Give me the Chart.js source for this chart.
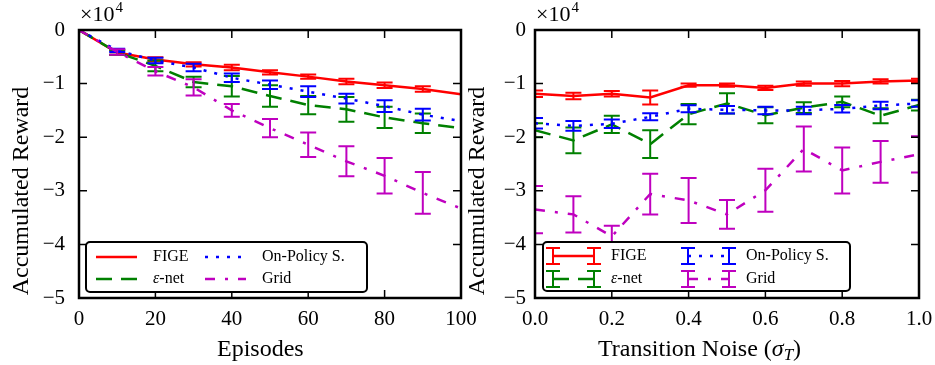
<!DOCTYPE html>
<html>
<head>
<meta charset="utf-8">
<script src="https://cdn.jsdelivr.net/npm/chart.js@4.4.1/dist/chart.umd.min.js"></script>
<style>
  html, body { margin: 0; padding: 0; background: #fff; }
  #wrap { position: relative; width: 935px; height: 365px; overflow: hidden; }
  canvas { position: absolute; top: 0; }
</style>
</head>
<body>
<div id="wrap">
  <canvas id="left" width="500" height="365" style="left:0"></canvas>
  <canvas id="right" width="468" height="365" style="left:467px"></canvas>
</div>
<script>
// x values
const episodes = [0, 10, 20, 30, 40, 50, 60, 70, 80, 90, 100];
const noise = [0.0, 0.1, 0.2, 0.3, 0.4, 0.5, 0.6, 0.7, 0.8, 0.9, 1.0];

// ticks
const episodeTicks = [0, 20, 40, 60, 80, 100];
const episodeLabels = ['0', '20', '40', '60', '80', '100'];
const noiseTicks = [0, 0.2, 0.4, 0.6, 0.8, 1.0];
const noiseLabels = ['0.0', '0.2', '0.4', '0.6', '0.8', '1.0'];
const rewardTicks = [0, -1, -2, -3, -4, -5];
const rewardLabels = ['0', '\u22121', '\u22122', '\u22123', '\u22124', '\u22125'];

// left panel: accumulated reward (x1e4) vs episodes
const figeEp     = [0, -0.42, -0.55, -0.64, -0.70, -0.79, -0.87, -0.96, -1.03, -1.10, -1.20];
const figeEpErr  = [null, 0.04, 0.04, 0.04, 0.05, 0.04, 0.04, 0.05, 0.05, 0.05, null];
const epsEp      = [0, -0.42, -0.67, -0.97, -1.05, -1.23, -1.40, -1.48, -1.63, -1.74, -1.83];
const epsEpErr   = [null, 0.04, 0.10, 0.10, 0.19, 0.20, 0.17, 0.23, 0.20, 0.18, null];
const onpolEp    = [0, -0.38, -0.57, -0.70, -0.89, -1.02, -1.15, -1.28, -1.42, -1.58, -1.70];
const onpolEpErr = [null, 0.03, 0.05, 0.07, 0.08, 0.08, 0.10, 0.09, 0.11, 0.11, null];
const gridEp     = [0, -0.41, -0.77, -1.07, -1.50, -1.83, -2.14, -2.45, -2.72, -3.04, -3.33];
const gridEpErr  = [null, 0.05, 0.08, 0.15, 0.12, 0.17, 0.23, 0.28, 0.33, 0.39, null];

// right panel: accumulated reward (x1e4) vs transition noise
const figeN     = [-1.19, -1.23, -1.19, -1.26, -1.03, -1.03, -1.08, -1.00, -1.00, -0.96, -0.94];
const figeNErr  = [0.06, 0.06, 0.05, 0.13, 0.03, 0.03, 0.04, 0.04, 0.05, 0.04, 0.03];
const epsN      = [-1.87, -2.06, -1.76, -2.13, -1.57, -1.37, -1.59, -1.45, -1.34, -1.60, -1.40];
const epsNErr   = [0.13, 0.24, 0.16, 0.26, 0.19, 0.19, 0.15, 0.10, 0.10, 0.14, 0.10];
const onpolN    = [-1.74, -1.79, -1.75, -1.62, -1.47, -1.49, -1.50, -1.50, -1.47, -1.41, -1.37];
const onpolNErr = [0.10, 0.09, 0.08, 0.065, 0.065, 0.07, 0.07, 0.07, 0.07, 0.07, 0.06];
const gridN     = [-3.35, -3.44, -3.85, -3.06, -3.18, -3.44, -2.99, -2.22, -2.62, -2.46, -2.32];
const gridNErr  = [0.44, 0.34, 0.20, 0.38, 0.42, 0.27, 0.40, 0.42, 0.43, 0.39, 0.34];

const SERIF = '"Liberation Serif", "Times New Roman", Times, serif';
const RED = '#ff0000', GREEN = '#008000', BLUE = '#0000ff', MAGENTA = '#bf00bf';
const styles = {
  fige:  { label: 'FIGE', color: RED, dash: [] },
  eps:   { label: '-net', color: GREEN, dash: [16, 9] },
  onpol: { label: 'On-Policy S.', color: BLUE, dash: [3, 8] },
  grid:  { label: 'Grid', color: MAGENTA, dash: [10, 10, 3, 10] }
};

function drawErr(ctx, px, y1, y2, half) {
  ctx.beginPath();
  ctx.moveTo(px, y1); ctx.lineTo(px, y2);
  ctx.moveTo(px - half, y1); ctx.lineTo(px + half, y1);
  ctx.moveTo(px - half, y2); ctx.lineTo(px + half, y2);
  ctx.stroke();
}

const decor = {
  id: 'decor',
  afterDatasetDraw(chart, args) {
    const ds = chart.data.datasets[args.index];
    if (!ds.err) return;
    const { ctx, chartArea: a, scales: { x, y } } = chart;
    ctx.save();
    ctx.beginPath();
    ctx.rect(a.left, a.top, a.right - a.left, a.bottom - a.top);
    ctx.clip();
    ctx.strokeStyle = ds.borderColor;
    ctx.lineWidth = 2;
    ctx.setLineDash([]);
    ds.data.forEach((p, i) => {
      const e = ds.err[i];
      if (e == null) return;
      drawErr(ctx, x.getPixelForValue(p.x), y.getPixelForValue(p.y + e), y.getPixelForValue(p.y - e), 8);
    });
    ctx.restore();
  },
  afterDraw(chart, args, o) {
    const { ctx, chartArea: a, scales: { x, y } } = chart;
    ctx.save();
    // inside ticks
    ctx.strokeStyle = '#000';
    ctx.lineWidth = 1.5;
    ctx.beginPath();
    o.xTicks.forEach(v => {
      const px = x.getPixelForValue(v);
      ctx.moveTo(px, a.bottom); ctx.lineTo(px, a.bottom - 8);
      ctx.moveTo(px, a.top); ctx.lineTo(px, a.top + 8);
    });
    o.yTicks.forEach(v => {
      const py = y.getPixelForValue(v);
      ctx.moveTo(a.left, py); ctx.lineTo(a.left + 8, py);
      ctx.moveTo(a.right, py); ctx.lineTo(a.right - 8, py);
    });
    ctx.stroke();
    // frame
    ctx.lineWidth = 2.5;
    ctx.strokeRect(a.left, a.top, a.right - a.left, a.bottom - a.top);

    // x1e4 offset text
    ctx.fillStyle = '#000';
    ctx.textBaseline = 'alphabetic';
    ctx.textAlign = 'left';
    ctx.font = '22px ' + SERIF;
    ctx.fillText('\u00d710', a.left + 1, 21);
    const w = ctx.measureText('\u00d710').width;
    ctx.font = '15px ' + SERIF;
    ctx.fillText('4', a.left + 1 + w + 1, 12);

    // y title
    ctx.save();
    ctx.translate(a.left - o.yTitleOff, o.yTitleY);
    ctx.rotate(-Math.PI / 2);
    ctx.textAlign = 'center';
    ctx.font = '24px ' + SERIF;
    ctx.fillText('Accumulated Reward', 0, 0);
    ctx.restore();

    // x title
    ctx.textAlign = 'left';
    let tx = o.xTitleX;
    o.xTitle.forEach(part => {
      ctx.font = (part.italic ? 'italic ' : '') + part.size + 'px ' + SERIF;
      ctx.fillText(part.t, tx, 356 + (part.dy || 0));
      tx += ctx.measureText(part.t).width;
    });

    // legend
    const L = o.legend;
    ctx.beginPath();
    ctx.roundRect(L.x, L.y, L.w, L.h, 4);
    ctx.fillStyle = '#fff';
    ctx.fill();
    ctx.lineWidth = 2;
    ctx.strokeStyle = '#000';
    ctx.stroke();
    chart.data.datasets.forEach((ds, i) => {
      const col = Math.floor(i / 2), row = i % 2;
      const sx = L.cols[col], sy = L.rows[row];
      ctx.strokeStyle = ds.borderColor;
      ctx.lineWidth = 2.5;
      ctx.setLineDash(ds.borderDash);
      ctx.beginPath();
      ctx.moveTo(sx, sy); ctx.lineTo(sx + L.len, sy);
      ctx.stroke();
      ctx.setLineDash([]);
      if (L.err) {
        ctx.lineWidth = 2;
        drawErr(ctx, sx, sy - 8, sy + 8, 7);
        drawErr(ctx, sx + L.len, sy - 8, sy + 8, 7);
      }
      ctx.fillStyle = '#000';
      ctx.textBaseline = 'middle';
      let lx = sx + L.textOff;
      if (ds.label === '-net') {
        ctx.font = 'italic 16px ' + SERIF;
        ctx.fillText('\u03b5', lx, sy);
        lx += ctx.measureText('\u03b5').width;
      }
      ctx.font = '16px ' + SERIF;
      ctx.fillText(ds.label, lx, sy);
    });
    ctx.restore();
  }
};

function makeChart(id, cfg) {
  const order = { fige: 4, eps: 3, onpol: 2, grid: 1 };
  return new Chart(document.getElementById(id), {
    type: 'line',
    data: {
      datasets: cfg.series.map(s => ({
        label: styles[s.key].label,
        data: cfg.xs.map((v, i) => ({ x: v, y: s.y[i] })),
        err: s.err,
        borderColor: styles[s.key].color,
        borderDash: styles[s.key].dash,
        borderWidth: 2.5,
        borderCapStyle: 'butt',
        pointRadius: 0,
        tension: 0,
        fill: false,
        order: order[s.key]
      }))
    },
    options: {
      responsive: false,
      animation: false,
      events: [],
      layout: { padding: { top: 30, right: cfg.padRight, left: 0, bottom: 0 } },
      plugins: { legend: { display: false }, tooltip: { enabled: false }, decor: cfg.decor },
      scales: {
        x: {
          type: 'linear', min: cfg.xMin, max: cfg.xMax,
          afterBuildTicks: s => { s.ticks = cfg.xTicks.map(v => ({ value: v })); },
          afterFit: s => { s.height = 67; s.paddingLeft = 0; s.paddingRight = 0; },
          grid: { display: false, drawTicks: false },
          border: { display: false },
          ticks: {
            padding: 9, color: '#000', maxRotation: 0, autoSkip: false,
            font: { family: SERIF, size: 21 },
            callback: (v, i) => cfg.xLabels[i]
          }
        },
        y: {
          min: -5, max: 0,
          afterBuildTicks: s => { s.ticks = rewardTicks.map(v => ({ value: v })); },
          afterFit: s => { s.width = cfg.yWidth; s.paddingTop = 0; s.paddingBottom = 0; },
          grid: { display: false, drawTicks: false },
          border: { display: false },
          ticks: {
            padding: cfg.yPad, color: '#000', autoSkip: false,
            font: { family: SERIF, size: 21 },
            callback: (v, i) => rewardLabels[i]
          }
        }
      }
    },
    plugins: [decor]
  });
}

makeChart('left', {
  xs: episodes, xMin: 0, xMax: 100, xTicks: episodeTicks, xLabels: episodeLabels,
  yWidth: 79, yPad: 14, padRight: 39,
  series: [
    { key: 'fige', y: figeEp, err: figeEpErr },
    { key: 'eps', y: epsEp, err: epsEpErr },
    { key: 'onpol', y: onpolEp, err: onpolEpErr },
    { key: 'grid', y: gridEp, err: gridEpErr }
  ],
  decor: {
    xTicks: episodeTicks, yTicks: rewardTicks,
    yTitleOff: 51, yTitleY: 191,
    xTitleX: 217, xTitle: [{ t: 'Episodes', size: 24 }],
    legend: { x: 86, y: 242, w: 281, h: 50, cols: [96, 205], rows: [257, 279], len: 41, textOff: 57, err: false }
  }
});

makeChart('right', {
  xs: noise, xMin: 0, xMax: 1, xTicks: noiseTicks, xLabels: noiseLabels,
  yWidth: 68, yPad: 9, padRight: 16,
  series: [
    { key: 'fige', y: figeN, err: figeNErr },
    { key: 'eps', y: epsN, err: epsNErr },
    { key: 'onpol', y: onpolN, err: onpolNErr },
    { key: 'grid', y: gridN, err: gridNErr }
  ],
  decor: {
    xTicks: noiseTicks, yTicks: rewardTicks,
    yTitleOff: 51, yTitleY: 191,
    xTitleX: 131, xTitle: [
      { t: 'Transition Noise (', size: 24 },
      { t: '\u03c3', size: 24, italic: true },
      { t: 'T', size: 17, italic: true, dy: 4 },
      { t: ')', size: 24 }
    ],
    legend: { x: 76, y: 242, w: 307, h: 49, cols: [86, 221], rows: [256, 279], len: 41, textOff: 58, err: true }
  }
});
</script>
</body>
</html>
